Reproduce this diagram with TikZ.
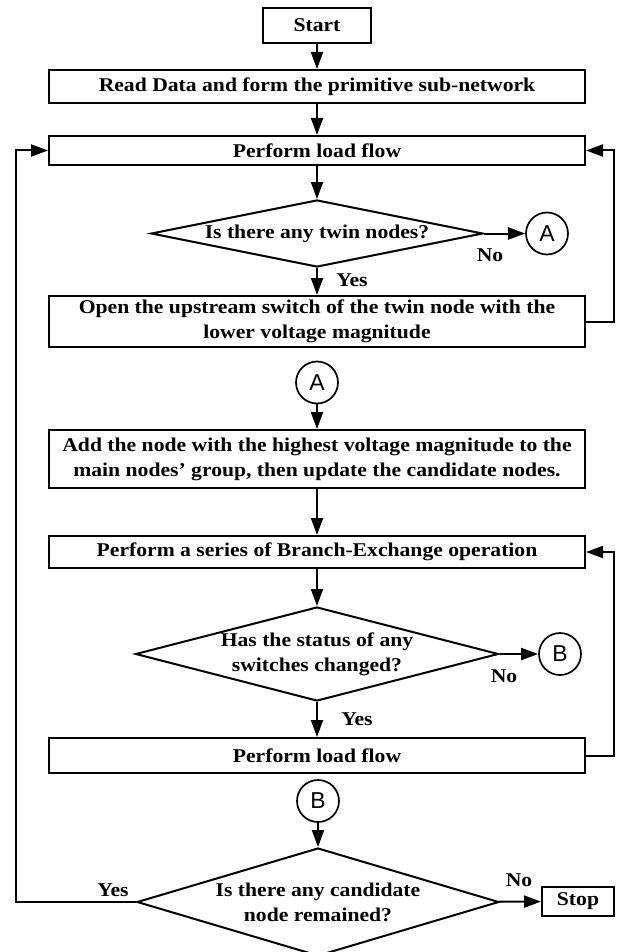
\documentclass[tikz,border=0pt]{standalone}
\usepackage{fontspec}
\setmainfont{Liberation Serif}[FakeStretch=1.11]
\newfontfamily\circfont{Liberation Sans}
\usetikzlibrary{shapes.geometric,arrows.meta}

\tikzset{
	proc/.style={draw,line width=2pt,minimum width=536pt,inner sep=0pt,align=center,font=\bfseries\fontsize{19.5}{25}\selectfont},
	term/.style={proc,minimum width=108pt,minimum height=35pt},
	decision/.style={draw,diamond,line width=2pt,inner sep=0pt},
	qtext/.style={align=center,font=\bfseries\fontsize{19.5}{25}\selectfont},
	conn/.style={draw,circle,line width=1.7pt,minimum size=42pt,inner sep=0pt,font=\circfont\fontsize{23}{23}\selectfont},
	tag/.style={font=\bfseries\fontsize{19.5}{25}\selectfont}
}

\begin{document}
\begin{tikzpicture}[x=1pt,y=-1pt,line width=2pt,>={Triangle[length=17pt,width=12pt]}]
	\useasboundingbox (0,0) rectangle (618,952);
	\coordinate (left) at (16,0);
	\coordinate (right) at (614,0);

	% main column
	\node[term] (start) at (317,25.5) {Start};
	\node[proc,minimum height=33pt] (read) at (317,86.5) {Read Data and form the primitive sub-network};
	\node[proc,minimum height=29pt] (flow1) at (317,150.5) {Perform load flow};
	\node[decision,minimum width=332pt,minimum height=67pt,label={[qtext]center:Is there any twin nodes?}] (twin) at (317,233.5) {};
	\node[conn] (a1) at (547,233.5) {A};
	\node[proc,minimum height=51pt] (open) at (317,321.5) {Open the upstream switch of the twin node with the\\lower voltage magnitude};
	\node[conn] (a2) at (317,382.5) {A};
	\node[proc,minimum height=58pt] (add) at (317,459) {Add the node with the highest voltage magnitude to the\\main nodes' group, then update the candidate nodes.};
	\node[proc,minimum height=32pt] (branch) at (317,552) {Perform a series of Branch-Exchange operation};
	\node[decision,minimum width=363pt,minimum height=94pt,label={[qtext]center:{Has the status of any\\switches changed?}}] (status) at (317,654) {};
	\node[conn] (b1) at (560,654) {B};
	\node[proc,minimum height=35pt] (flow2) at (317,755.5) {Perform load flow};
	\node[conn] (b2) at (318,801) {B};
	\node[decision,minimum width=362pt,minimum height=108pt,label={[qtext]center:{Is there any candidate\\node remained?}}] (cand) at (318,902) {};
	\node[term,minimum width=72pt,minimum height=29pt] (stop) at (578,901.5) {Stop};

	% yes / no
	\node[tag] (no1) at (490,255) {No};
	\node[tag] (yes1) at (352,280) {Yes};
	\node[tag] (no2) at (504,676) {No};
	\node[tag] (yes2) at (357,719) {Yes};
	\node[tag] (no3) at (519,880) {No};
	\node[tag] (yes3) at (113,890) {Yes};

	\draw[->] (start) -- (read);
	\draw[->] (read) -- (flow1);
	\draw[->] (flow1) -- (twin);
	\draw[->] (twin) -- (a1);
	\draw[->] (twin) -- (open);
	\draw[->] (open.east) -- (open.east -| right) |- (flow1.east);
	\draw[->] (a2) -- (add);
	\draw[->] (add) -- (branch);
	\draw[->] (branch) -- (status);
	\draw[->] (status) -- (b1);
	\draw[->] (status) -- (flow2);
	\draw[->] (flow2.east) -- (flow2.east -| right) |- (branch.east);
	\draw[->] (b2) -- (cand);
	\draw[->] (cand) -- (stop);
	\draw[->] (cand.west) -- (cand.west -| left) |- (flow1.west);
\end{tikzpicture}
\end{document}
